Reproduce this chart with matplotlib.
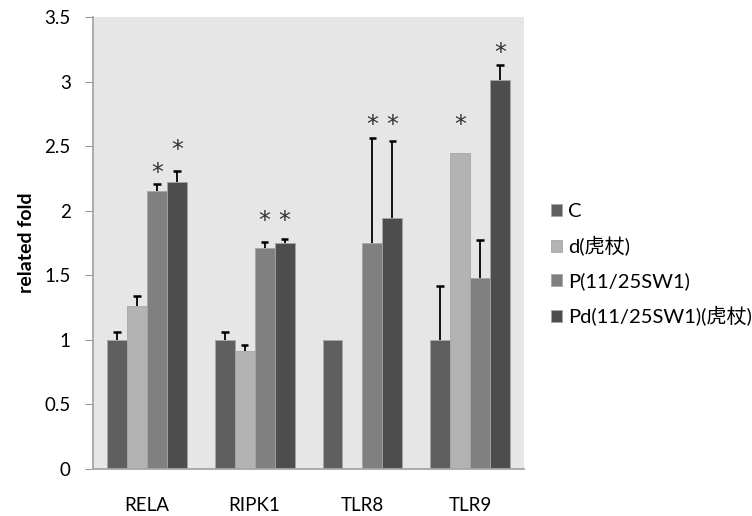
import matplotlib
matplotlib.use("Agg")
import matplotlib.pyplot as plt
import numpy as np

plt.rcParams['font.family'] = ['Lato', 'Noto Sans CJK SC', 'DejaVu Sans']

genes = ["RELA", "RIPK1", "TLR8", "TLR9"]
series = ["C", "d(虎杖)", "P(11/25SW1)", "Pd(11/25SW1)(虎杖)"]
values = [
    [1.00, 1.00, 1.00, 1.00],   # C
    [1.26, 0.91, 0.00, 2.45],   # d
    [2.15, 1.71, 1.75, 1.48],   # P
    [2.22, 1.75, 1.94, 3.01],   # Pd
]
errors = [
    [0.06, 0.06, 0.00, 0.42],
    [0.08, 0.05, 0.00, 0.00],
    [0.06, 0.05, 0.81, 0.29],
    [0.09, 0.03, 0.60, 0.12],
]
# significance marks: (series index, gene index, y position)
stars = [(2, 0, 2.29), (3, 0, 2.47), (2, 1, 1.92), (3, 1, 1.92),
         (2, 2, 2.66), (3, 2, 2.66), (1, 3, 2.66), (3, 3, 3.22)]
colors = ["#5f5f5f", "#b3b3b3", "#808080", "#4d4d4d"]

fig = plt.figure(figsize=(7.52, 5.16), dpi=100)
ax = fig.add_axes([0.1237, 0.0911, 0.5731, 0.8759])
ax.set_facecolor("#e6e6e6")

x = np.arange(len(genes))
w = 0.185
cap = 0.07
for i, (name, vals, errs, col) in enumerate(zip(series, values, errors, colors)):
    pos = x + (i - 1.5) * w
    ax.bar(pos, vals, width=w, color=col, edgecolor="#a6a6a6", linewidth=0.6,
           label=name, zorder=2)
    # one-sided (upper) error bars with a cap
    for p, v, e in zip(pos, vals, errs):
        if e > 0:
            ax.vlines(p, v, v + e, color="black", linewidth=1.3, zorder=3)
            ax.hlines(v + e, p - cap / 2, p + cap / 2, color="black",
                      linewidth=1.8, zorder=3)

for si, gi, y in stars:
    ax.text(x[gi] + (si - 1.5) * w, y, "*", ha="center", va="center",
            fontsize=17, color="#333333", family="DejaVu Sans")

ax.set_xlim(-0.5, 3.5)
ax.set_ylim(0, 3.5)
ax.set_yticks(np.arange(0, 3.51, 0.5))
ax.set_yticklabels(["0", "0.5", "1", "1.5", "2", "2.5", "3", "3.5"], fontsize=13.5)
ax.set_xticks(x)
ax.set_xticklabels(genes, fontsize=13.5)
ax.tick_params(axis="x", length=0, pad=20)
ax.tick_params(axis="y", length=6, color="#999999", pad=10)
for s in ["top", "right"]:
    ax.spines[s].set_visible(False)
for s in ["left", "bottom"]:
    ax.spines[s].set_color("#a6a6a6")
    ax.spines[s].set_linewidth(1.3)
ax.set_ylabel("related fold", fontsize=14, fontweight="bold", labelpad=7)

handles, labels = ax.get_legend_handles_labels()
fig.legend(handles, labels, loc="center left", bbox_to_anchor=(0.733, 0.487),
           frameon=False, fontsize=14.5, handlelength=0.55, handleheight=0.55,
           handletextpad=0.3, labelspacing=0.8, borderpad=0, borderaxespad=0)

fig.savefig("out.png", dpi=100)
